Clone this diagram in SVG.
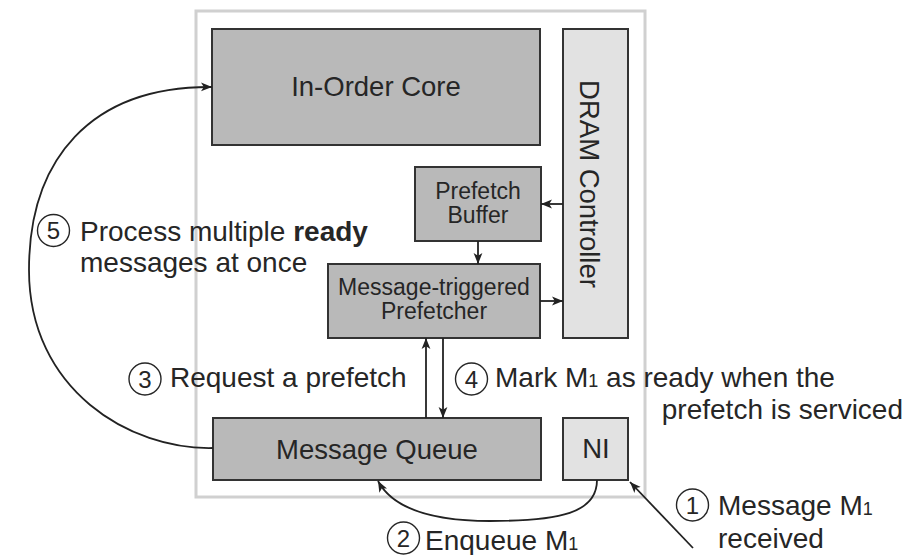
<svg xmlns="http://www.w3.org/2000/svg" width="906" height="555" viewBox="0 0 906 555">
  <style>
    .box { stroke: #333; stroke-width: 2; }
    .dark { fill: #b9b9b9; }
    .light { fill: #e2e2e2; }
    .blab { font-family: "Liberation Sans", Arial, sans-serif; font-size: 27.5px; fill: #262626; text-anchor: middle; }
    .slab { font-family: "Liberation Sans", Arial, sans-serif; font-size: 23px; fill: #262626; text-anchor: middle; }
    .lab { font-family: "Liberation Sans", Arial, sans-serif; font-size: 28px; fill: #262626; }
    .ring { fill: none; stroke: #262626; stroke-width: 1.4; }
    .num { font-family: "Liberation Sans", Arial, sans-serif; font-size: 24px; fill: #262626; text-anchor: middle; }
    .conn { fill: none; stroke: #222; stroke-width: 1.8; }
  </style>
  <defs>
    <marker id="arrow" markerUnits="userSpaceOnUse" markerWidth="13" markerHeight="10" refX="11" refY="5" orient="auto">
      <path d="M0,0.6 L11,5 L0,9.4 L2.8,5 Z" fill="#222"/>
    </marker>
  </defs>

  <rect width="906" height="555" fill="#fff"/>

  <!-- chip boundary -->
  <rect id="chip" x="196" y="11" width="449" height="486" fill="none" stroke="#d0d0d0" stroke-width="3"/>

  <g id="core">
    <rect class="box dark" x="212" y="29" width="328" height="116"/>
    <text class="blab" x="376" y="96">In-Order Core</text>
  </g>

  <g id="dram">
    <rect class="box light" x="563" y="29" width="65" height="309"/>
    <text class="blab" transform="translate(580,184) rotate(90)">DRAM Controller</text>
  </g>

  <g id="prefetch-buffer">
    <rect class="box dark" x="415" y="167" width="126" height="74"/>
    <text class="slab" x="478" y="199">Prefetch</text>
    <text class="slab" x="478" y="223">Buffer</text>
  </g>

  <g id="prefetcher">
    <rect class="box dark" x="328" y="264" width="212" height="74"/>
    <text class="slab" x="434" y="295">Message-triggered</text>
    <text class="slab" x="434" y="319">Prefetcher</text>
  </g>

  <g id="message-queue">
    <rect class="box dark" x="213" y="418" width="328" height="62"/>
    <text class="blab" x="377" y="459">Message Queue</text>
  </g>

  <g id="ni">
    <rect class="box light" x="563" y="418" width="65" height="62"/>
    <text class="blab" x="596" y="458">NI</text>
  </g>

  <g id="connectors">
    <line class="conn" x1="563" y1="204" x2="541" y2="204" marker-end="url(#arrow)"/>
    <line class="conn" x1="478" y1="241" x2="478" y2="264" marker-end="url(#arrow)"/>
    <line class="conn" x1="540" y1="301" x2="563" y2="301" marker-end="url(#arrow)"/>
    <line class="conn" x1="426" y1="418" x2="426" y2="338" marker-end="url(#arrow)"/>
    <line class="conn" x1="443" y1="338" x2="443" y2="418" marker-end="url(#arrow)"/>
    <path class="conn" d="M213,448 C130,450 29,390 29,270 C29,160 90,86 212,87" marker-end="url(#arrow)"/>
    <path class="conn" d="M597,480 C597,513 560,521 490,521 C430,521 392,507 378,481" marker-end="url(#arrow)"/>
    <line class="conn" x1="693" y1="548" x2="630" y2="482" marker-end="url(#arrow)"/>
  </g>

  <g id="labels">
    <circle class="ring" cx="53.5" cy="230.5" r="16"/>
    <text class="num" x="53.5" y="239">5</text>
    <text class="lab" x="80" y="241">Process multiple <tspan font-weight="bold">ready</tspan></text>
    <text class="lab" x="80" y="272">messages at once</text>

    <circle class="ring" cx="145" cy="379" r="16"/>
    <text class="num" x="145" y="387.5">3</text>
    <text class="lab" x="170" y="387">Request a prefetch</text>

    <circle class="ring" cx="471.5" cy="379" r="16"/>
    <text class="num" x="471.5" y="387.5">4</text>
    <text class="lab" x="495" y="387">Mark M<tspan font-size="18">1</tspan> as ready when the</text>
    <text class="lab" x="903" y="419" text-anchor="end">prefetch is serviced</text>

    <circle class="ring" cx="692.5" cy="505" r="16"/>
    <text class="num" x="692.5" y="513.5">1</text>
    <text class="lab" x="718" y="515">Message M<tspan font-size="18">1</tspan></text>
    <text class="lab" x="718" y="548">received</text>

    <circle class="ring" cx="403.5" cy="538" r="16"/>
    <text class="num" x="403.5" y="546.5">2</text>
    <text class="lab" x="425" y="550">Enqueue M<tspan font-size="18">1</tspan></text>
  </g>
</svg>
